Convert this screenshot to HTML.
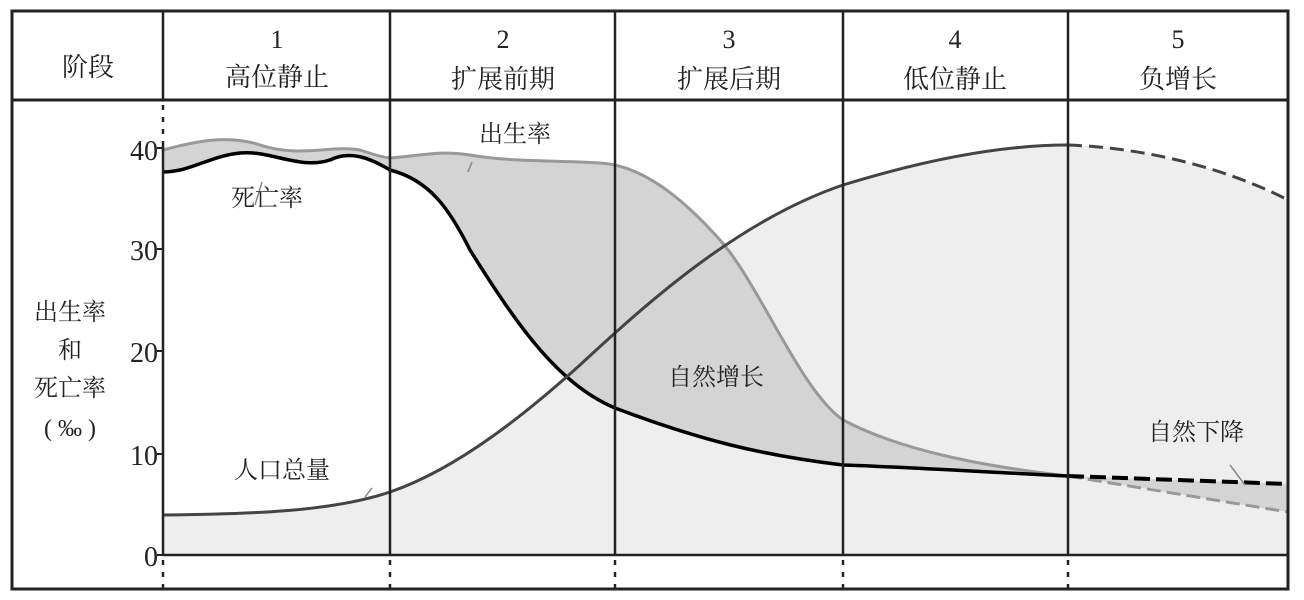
<!DOCTYPE html>
<html><head><meta charset="utf-8"><style>
html,body{margin:0;padding:0;background:#fff;}
svg{display:block;}
text{font-family:"Liberation Serif","Noto Serif CJK SC",serif;fill:#222;}
</style></head><body>
<svg width="1304" height="600" viewBox="0 0 1304 600" xmlns="http://www.w3.org/2000/svg">
<path d="M163,515 C250,514 330,512 390,492 C460,468 530,410 580,365 C650,300 740,220 843,185 C950,152 1020,145 1068,145 C1150,148 1230,170 1288,200 L1288,555 L163,555 Z" fill="#eeeeee"/>
<path d="M163,150 C200,140 230,135 260,145 C300,158 330,145 360,150 C375,155 385,158 390,158 C420,156 440,150 470,155 C510,162 550,160 600,163 C640,165 680,195 720,240 S800,390 843,420 C900,450 980,466 1068,476 L1068,476 C950,470 880,466 843,465 C760,455 700,440 615,408 C560,385 520,330 470,250 C450,210 430,180 390,170 C370,158 350,150 330,160 C300,170 270,150 240,153 C210,156 190,172 163,172 Z" fill="#d4d4d4"/>
<path d="M1068,476 L1288,484 L1288,512 Z" fill="#d4d4d4"/>
<path d="M163,150 C200,140 230,135 260,145 C300,158 330,145 360,150 C375,155 385,158 390,158 C420,156 440,150 470,155 C510,162 550,160 600,163 C640,165 680,195 720,240 S800,390 843,420 C900,450 980,466 1068,476" fill="none" stroke="#999" stroke-width="3"/>
<path d="M1068,476 L1288,512" fill="none" stroke="#999" stroke-width="3" stroke-dasharray="14,6"/>
<path d="M163,172 C190,172 210,156 240,153 C270,150 300,170 330,160 C350,150 370,158 390,170 C430,180 450,210 470,250 C520,330 560,385 615,408 C700,440 760,455 843,465 C880,466 950,470 1068,476" fill="none" stroke="#000" stroke-width="3.5"/>
<path d="M1068,476 L1288,484" fill="none" stroke="#000" stroke-width="4" stroke-dasharray="16,6"/>
<path d="M163,515 C250,514 330,512 390,492 C460,468 530,410 580,365 C650,300 740,220 843,185 C950,152 1020,145 1068,145" fill="none" stroke="#444" stroke-width="3"/>
<path d="M1068,145 C1150,148 1230,170 1288,200" fill="none" stroke="#444" stroke-width="3" stroke-dasharray="14,7"/>
<path d="M468,172 L472,162 M255,205 L262,182 M365,497 L372,488 M1230,465 L1245,485" stroke="#888" stroke-width="1.5"/>
<rect x="12" y="11" width="1276" height="578" fill="none" stroke="#222" stroke-width="3"/>
<line x1="12" y1="100" x2="1288" y2="100" stroke="#222" stroke-width="3"/>
<line x1="163" y1="555" x2="1288" y2="555" stroke="#222" stroke-width="2.5"/>
<g stroke="#222" stroke-width="2.5">
<line x1="163" y1="11" x2="163" y2="100"/><line x1="163" y1="145" x2="163" y2="555"/>
<line x1="390" y1="11" x2="390" y2="555"/>
<line x1="615" y1="11" x2="615" y2="555"/>
<line x1="843" y1="11" x2="843" y2="555"/>
<line x1="1068" y1="11" x2="1068" y2="555"/>
</g>
<g stroke="#222" stroke-width="2.5" stroke-dasharray="5,7">
<line x1="163" y1="105" x2="163" y2="145"/>
<line x1="163" y1="560" x2="163" y2="589"/><line x1="390" y1="560" x2="390" y2="589"/>
<line x1="615" y1="560" x2="615" y2="589"/><line x1="843" y1="560" x2="843" y2="589"/>
<line x1="1068" y1="560" x2="1068" y2="589"/>
</g>
<g stroke="#222" stroke-width="2"><line x1="157" y1="148" x2="163" y2="148"/><line x1="157" y1="249" x2="163" y2="249"/><line x1="157" y1="351" x2="163" y2="351"/><line x1="157" y1="454" x2="163" y2="454"/><line x1="157" y1="555" x2="163" y2="555"/></g>
<g font-size="26" text-anchor="middle">
<text x="88" y="76">阶段</text>
<text x="277" y="48">1</text><text x="277" y="86">高位静止</text>
<text x="503" y="48">2</text><text x="503" y="88">扩展前期</text>
<text x="729" y="48">3</text><text x="729" y="88">扩展后期</text>
<text x="955" y="48">4</text><text x="955" y="88">低位静止</text>
<text x="1178" y="48">5</text><text x="1178" y="88">负增长</text>
</g>
<g font-size="28" text-anchor="end">
<text x="158" y="160">40</text><text x="158" y="260">30</text><text x="158" y="362">20</text><text x="158" y="465">10</text><text x="158" y="566">0</text>
</g>
<g font-size="24" text-anchor="middle">
<text x="70" y="320">出生率</text><text x="70" y="358">和</text><text x="70" y="396">死亡率</text><text x="70" y="436">( ‰ )</text>
<text x="267" y="206">死亡率</text>
<text x="515" y="142">出生率</text>
<text x="716" y="385">自然增长</text>
<text x="1196" y="440">自然下降</text>
<text x="282" y="478">人口总量</text>
</g>
</svg>
</body></html>
